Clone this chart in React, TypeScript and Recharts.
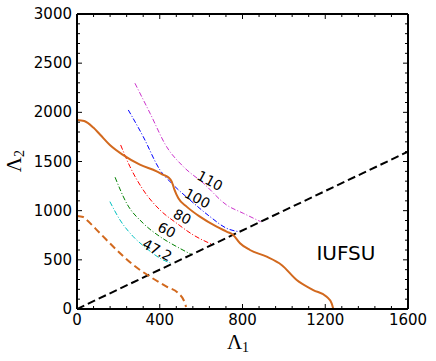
import React from "react";
import { LineChart, Line, XAxis, YAxis, ReferenceDot, Label } from "recharts";

// IUFSU tidal deformability bounds (Lambda_1, Lambda_2)
const iufsuUpper = [
  [0, 1923], [35, 1912], [79, 1845], [111, 1775], [159, 1668], [224, 1565],
  [304, 1468], [385, 1400], [417, 1365], [441, 1340], [458, 1295], [470, 1220],
  [490, 1126], [530, 1041], [594, 939], [675, 837], [723, 787], [755, 753],
  [788, 668], [836, 600], [917, 532], [989, 448], [1062, 295], [1142, 193],
  [1207, 125], [1231, 58], [1239, 0],
];
const iufsuLower = [
  [0, 946], [30, 935], [47, 905], [111, 770], [192, 600], [272, 448],
  [353, 329], [433, 227], [490, 160], [522, 58], [527, 20],
];
const diagonal = [[0, 0], [1600, 1600]];

// constant tilde-Lambda contours
const c472 = [[159, 1092], [208, 905], [272, 736], [336, 617], [401, 516], [460, 462]];
const c60 = [[184, 1340], [240, 1075], [320, 872], [401, 736], [482, 634], [552, 556]];
const c80 = [[211, 1668], [256, 1448], [320, 1211], [401, 1007], [482, 872], [562, 753], [650, 660]];
const c100 = [[248, 2024], [320, 1753], [401, 1414], [466, 1261], [546, 1109], [643, 939], [723, 821], [785, 785]];
const c110 = [[280, 2296], [353, 1991], [433, 1651], [514, 1448], [611, 1279], [723, 1058], [804, 973], [888, 888]];

const contourLabels = [
  { text: "110", x: 643, y: 1305 },
  { text: "100", x: 582, y: 1126 },
  { text: "80", x: 509, y: 939 },
  { text: "60", x: 434, y: 804 },
  { text: "47.2", x: 388, y: 600 },
];

const xTicks = [0, 80, 160, 240, 320, 400, 480, 560, 640, 720, 800, 880, 960, 1040, 1120, 1200, 1280, 1360, 1440, 1520, 1600];
const yTicks = [
  0, 100, 200, 300, 400, 500, 600, 700, 800, 900, 1000, 1100, 1200, 1300, 1400, 1500,
  1600, 1700, 1800, 1900, 2000, 2100, 2200, 2300, 2400, 2500, 2600, 2700, 2800, 2900, 3000,
];

const toPts = (arr: number[][]) => arr.map(([x, y]) => ({ x, y }));

const sans = "DejaVu Sans";
const serif = "Liberation Serif";
const orange = "#d2691e";
const axisStyle = { stroke: "#000", strokeWidth: 2 };

// ticks point inward, labels only on the major ones
const BottomTick = (props: any) => {
  const { x, y, payload } = props;
  const major = payload.value % 400 === 0;
  return (
    <g>
      <path d={`M${x},${y}V${y - (major ? 5 : 3)}`} stroke="#000" strokeWidth={1} fill="none" />
      {major && (
        <text x={x} y={y + 16} textAnchor="middle" fontFamily={sans} fontSize={15} fill="#000">
          {payload.value}
        </text>
      )}
    </g>
  );
};

const TopTick = (props: any) => {
  const { x, y, payload } = props;
  const major = payload.value % 400 === 0;
  return <path d={`M${x},${y}V${y + (major ? 5 : 3)}`} stroke="#000" strokeWidth={1} fill="none" />;
};

const LeftTick = (props: any) => {
  const { x, y, payload } = props;
  const major = payload.value % 500 === 0;
  return (
    <g>
      <path d={`M${x},${y}H${x + (major ? 5 : 3)}`} stroke="#000" strokeWidth={1} fill="none" />
      {major && (
        <text x={x - 5} y={y + 5} textAnchor="end" fontFamily={sans} fontSize={15} fill="#000">
          {payload.value}
        </text>
      )}
    </g>
  );
};

const RightTick = (props: any) => {
  const { x, y, payload } = props;
  const major = payload.value % 500 === 0;
  return <path d={`M${x},${y}H${x - (major ? 5 : 3)}`} stroke="#000" strokeWidth={1} fill="none" />;
};

const contourLine = (data: number[][], color: string, key: string) => (
  <Line
    key={key}
    data={toPts(data)}
    dataKey="y"
    type="monotone"
    stroke={color}
    strokeWidth={1}
    strokeDasharray="5 2 1 2"
    dot={false}
    activeDot={false}
    isAnimationActive={false}
  />
);

export default function App() {
  return (
    <div style={{ position: "absolute", left: 0, top: 0, background: "#fff" }}>
      <LineChart width={436} height={361} margin={{ top: 13, right: 27, left: 0, bottom: 0 }}>
        <XAxis
          dataKey="x"
          type="number"
          domain={[0, 1600]}
          ticks={xTicks}
          interval={0}
          tickSize={0}
          tickMargin={0}
          tick={<BottomTick />}
          axisLine={axisStyle}
          height={52}
          allowDataOverflow
        >
          <Label
            content={() => (
              <text x={238} y={349} textAnchor="middle" fontFamily={serif} fontSize={21} fill="#000">
                Λ<tspan fontSize={14} dy={3}>1</tspan>
              </text>
            )}
          />
        </XAxis>
        <XAxis
          xAxisId="top"
          dataKey="x"
          orientation="top"
          type="number"
          domain={[0, 1600]}
          ticks={xTicks}
          interval={0}
          tickSize={0}
          tickMargin={0}
          tick={<TopTick />}
          axisLine={axisStyle}
          height={1}
          allowDataOverflow
        />
        <YAxis
          type="number"
          domain={[0, 3000]}
          ticks={yTicks}
          interval={0}
          tickSize={0}
          tickMargin={0}
          tick={<LeftTick />}
          axisLine={axisStyle}
          width={77}
          allowDataOverflow
        >
          <Label
            content={() => (
              <text
                x={21}
                y={161}
                transform="rotate(-90 21 161)"
                textAnchor="middle"
                fontFamily={serif}
                fontSize={21}
                fill="#000"
              >
                Λ<tspan fontSize={14} dy={3}>2</tspan>
              </text>
            )}
          />
        </YAxis>
        <YAxis
          yAxisId="right"
          orientation="right"
          type="number"
          domain={[0, 3000]}
          ticks={yTicks}
          interval={0}
          tickSize={0}
          tickMargin={0}
          tick={<RightTick />}
          axisLine={axisStyle}
          width={1}
          allowDataOverflow
        />

        {contourLine(c472, "#00c0c0", "c472")}
        {contourLine(c60, "#008000", "c60")}
        {contourLine(c80, "#ff0000", "c80")}
        {contourLine(c100, "#0000ff", "c100")}
        {contourLine(c110, "#cc33cc", "c110")}

        <Line
          xAxisId="top"
          yAxisId="right"
          data={toPts(diagonal)}
          dataKey="y"
          type="linear"
          stroke="#000"
          strokeWidth={2}
          strokeDasharray="8 4"
          dot={false}
          activeDot={false}
          isAnimationActive={false}
        />
        <Line
          data={toPts(iufsuLower)}
          dataKey="y"
          type="monotone"
          stroke={orange}
          strokeWidth={2}
          strokeDasharray="7 4"
          dot={false}
          activeDot={false}
          isAnimationActive={false}
        />
        <Line
          data={toPts(iufsuUpper)}
          dataKey="y"
          type="monotone"
          stroke={orange}
          strokeWidth={2}
          dot={false}
          activeDot={false}
          isAnimationActive={false}
        />

        {contourLabels.map((l) => (
          <ReferenceDot
            key={l.text}
            x={l.x}
            y={l.y}
            r={0}
            fill="none"
            stroke="none"
            label={{
              content: (p: any) => {
                const vb = p.viewBox || {};
                const cx = (vb.x ?? 0) + (vb.width ?? 0) / 2;
                const cy = (vb.y ?? 0) + (vb.height ?? 0) / 2;
                return (
                  <text
                    x={cx}
                    y={cy + 5}
                    transform={`rotate(28 ${cx} ${cy})`}
                    textAnchor="middle"
                    fontFamily={sans}
                    fontSize={14}
                    fill="#000"
                  >
                    {l.text}
                  </text>
                );
              },
            }}
          />
        ))}
        <ReferenceDot
          x={1300}
          y={570}
          r={0}
          fill="none"
          stroke="none"
          label={{
            content: (p: any) => {
              const vb = p.viewBox || {};
              const cx = (vb.x ?? 0) + (vb.width ?? 0) / 2;
              const cy = (vb.y ?? 0) + (vb.height ?? 0) / 2;
              return (
                <text x={cx} y={cy + 7} textAnchor="middle" fontFamily={sans} fontSize={20} fill="#000">
                  IUFSU
                </text>
              );
            },
          }}
        />
      </LineChart>
    </div>
  );
}
